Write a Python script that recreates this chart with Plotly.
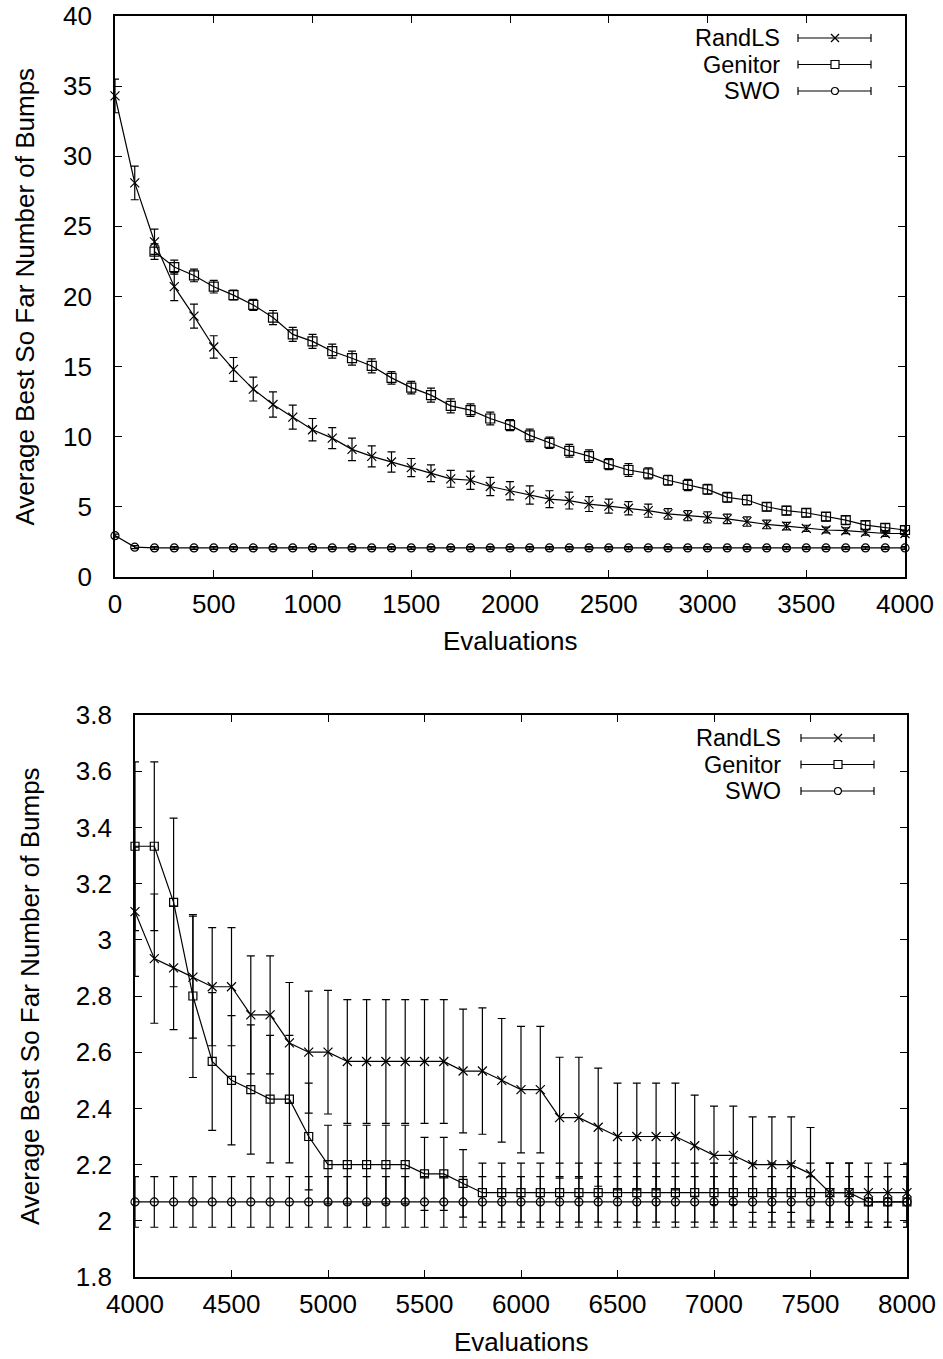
import plotly.graph_objects as go

W, H = 943, 1359

# ---------------- data: top panel (0 - 4000 evaluations) ----------------
top_evals = [0, 100, 200, 300, 400, 500, 600, 700, 800, 900, 1000, 1100, 1200, 1300,
             1400, 1500, 1600, 1700, 1800, 1900, 2000, 2100, 2200, 2300, 2400, 2500,
             2600, 2700, 2800, 2900, 3000, 3100, 3200, 3300, 3400, 3500, 3600, 3700,
             3800, 3900, 4000]
top_randls = [34.3, 28.1, 23.9, 20.7, 18.6, 16.4, 14.8, 13.4, 12.3, 11.4, 10.5, 9.9, 9.1,
              8.6, 8.2, 7.8, 7.4, 7.0, 6.9, 6.45, 6.15, 5.85, 5.55, 5.45, 5.2, 5.05, 4.9,
              4.73, 4.5, 4.37, 4.25, 4.15, 3.95, 3.75, 3.63, 3.47, 3.35, 3.3, 3.18, 3.1, 3.1]
top_randls_err = [1.2, 1.2, 0.9, 1.0, 0.85, 0.8, 0.85, 0.85, 0.9, 0.85, 0.8, 0.75, 0.8,
                  0.75, 0.72, 0.65, 0.6, 0.6, 0.65, 0.65, 0.65, 0.65, 0.6, 0.6, 0.53, 0.5,
                  0.47, 0.47, 0.38, 0.36, 0.39, 0.34, 0.33, 0.31, 0.27, 0.22, 0.21, 0.21,
                  0.2, 0.2, 0.2]
top_genitor_evals = [200, 300, 400, 500, 600, 700, 800, 900, 1000, 1100, 1200, 1300, 1400,
                     1500, 1600, 1700, 1800, 1900, 2000, 2100, 2200, 2300, 2400, 2500,
                     2600, 2700, 2800, 2900, 3000, 3100, 3200, 3300, 3400, 3500, 3600,
                     3700, 3800, 3900, 4000]
top_genitor = [23.2, 22.1, 21.5, 20.7, 20.1, 19.4, 18.5, 17.3, 16.8, 16.1, 15.6, 15.05,
               14.2, 13.5, 12.97, 12.2, 11.9, 11.3, 10.83, 10.1, 9.57, 9.0, 8.62, 8.05,
               7.63, 7.39, 6.9, 6.56, 6.25, 5.68, 5.49, 5.01, 4.73, 4.58, 4.3, 4.06, 3.7,
               3.51, 3.35]
top_genitor_err = [0.55, 0.5, 0.45, 0.45, 0.35, 0.4, 0.5, 0.5, 0.5, 0.5, 0.5, 0.5, 0.45,
                   0.45, 0.5, 0.5, 0.45, 0.45, 0.4, 0.45, 0.4, 0.45, 0.45, 0.4, 0.45, 0.4,
                   0.35, 0.4, 0.35, 0.35, 0.35, 0.3, 0.3, 0.3, 0.3, 0.3, 0.3, 0.3, 0.3]
top_swo = [2.95, 2.13, 2.07, 2.07, 2.07, 2.07, 2.07, 2.07, 2.07, 2.07, 2.07, 2.07, 2.07,
           2.07, 2.07, 2.07, 2.07, 2.07, 2.07, 2.07, 2.07, 2.07, 2.07, 2.07, 2.07, 2.07,
           2.07, 2.07, 2.07, 2.07, 2.07, 2.07, 2.07, 2.07, 2.07, 2.07, 2.07, 2.07, 2.07,
           2.07, 2.07]
top_swo_err = [0.1] * len(top_swo)

# ---------------- data: bottom panel (4000 - 8000 evaluations) ----------------
bot_evals = [4000, 4100, 4200, 4300, 4400, 4500, 4600, 4700, 4800, 4900, 5000, 5100, 5200,
             5300, 5400, 5500, 5600, 5700, 5800, 5900, 6000, 6100, 6200, 6300, 6400, 6500,
             6600, 6700, 6800, 6900, 7000, 7100, 7200, 7300, 7400, 7500, 7600, 7700, 7800,
             7900, 8000]
bot_randls = [3.1, 2.933, 2.9, 2.867, 2.833, 2.833, 2.733, 2.733, 2.633, 2.6, 2.6, 2.567,
              2.567, 2.567, 2.567, 2.567, 2.567, 2.533, 2.533, 2.5, 2.467, 2.467, 2.367,
              2.367, 2.333, 2.3, 2.3, 2.3, 2.3, 2.267, 2.233, 2.233, 2.2, 2.2, 2.2, 2.167,
              2.1, 2.1, 2.1, 2.1, 2.1]
bot_randls_err = [0.23, 0.23, 0.22, 0.217, 0.21, 0.21, 0.21, 0.21, 0.215, 0.217, 0.22,
                  0.22, 0.22, 0.22, 0.22, 0.22, 0.22, 0.22, 0.225, 0.22, 0.225, 0.225,
                  0.215, 0.215, 0.21, 0.19, 0.19, 0.19, 0.19, 0.18, 0.175, 0.175, 0.17,
                  0.17, 0.17, 0.165, 0.105, 0.105, 0.105, 0.105, 0.105]
bot_genitor = [3.333, 3.333, 3.133, 2.8, 2.567, 2.5, 2.467, 2.433, 2.433, 2.3, 2.2, 2.2,
               2.2, 2.2, 2.2, 2.167, 2.167, 2.133, 2.1, 2.1, 2.1, 2.1, 2.1, 2.1, 2.1, 2.1,
               2.1, 2.1, 2.1, 2.1, 2.1, 2.1, 2.1, 2.1, 2.1, 2.1, 2.1, 2.1, 2.067, 2.067,
               2.067]
bot_genitor_err = [0.3, 0.3, 0.3, 0.29, 0.245, 0.23, 0.23, 0.227, 0.227, 0.19, 0.14, 0.14,
                   0.14, 0.14, 0.14, 0.13, 0.13, 0.12, 0.105, 0.105, 0.105, 0.105, 0.105,
                   0.105, 0.105, 0.105, 0.105, 0.105, 0.105, 0.105, 0.105, 0.105, 0.105,
                   0.105, 0.105, 0.105, 0.105, 0.105, 0.09, 0.09, 0.09]
bot_swo = [2.067] * 41
bot_swo_err = [0.09] * 41

series_names = ["RandLS", "Genitor", "SWO"]
x_title = "Evaluations"
y_title = "Average Best So Far Number of Bumps"

FONT = "Liberation Sans, Arial, Helvetica, sans-serif"
FS = 26
KEY_FS = 23.5

fig = go.Figure()


def add_series(x, y, err, symbol, size, xa, ya):
    fig.add_trace(go.Scatter(
        x=x, y=y, mode="lines+markers", xaxis=xa, yaxis=ya, showlegend=False,
        cliponaxis=False,
        line=dict(color="black", width=1.2),
        marker=dict(symbol=symbol, size=size, color="black",
                    line=dict(color="black", width=1.2)),
        error_y=dict(type="data", array=err, visible=True, color="black",
                     thickness=1.2, width=4),
    ))


add_series(top_evals, top_randls, top_randls_err, "x-thin-open", 9, "x", "y")
add_series(top_genitor_evals, top_genitor, top_genitor_err, "square-open", 9, "x", "y")
add_series(top_evals, top_swo, top_swo_err, "circle-open", 8, "x", "y")

add_series(bot_evals, bot_randls, bot_randls_err, "x-thin-open", 9, "x2", "y2")
add_series(bot_evals, bot_genitor, bot_genitor_err, "square-open", 8, "x2", "y2")
add_series(bot_evals, bot_swo, bot_swo_err, "circle-open", 8, "x2", "y2")


def px(xp):
    return xp / W


def py(yp):
    return 1 - yp / H


axis_common = dict(
    showline=True, linecolor="black", linewidth=1.6, mirror="ticks",
    ticks="inside", ticklen=7, tickwidth=1.2, tickcolor="black",
    showgrid=False, zeroline=False, automargin=False,
    tickfont=dict(family=FONT, size=FS, color="black"),
)

fig.update_layout(
    width=W, height=H,
    margin=dict(l=0, r=0, t=0, b=0),
    paper_bgcolor="white", plot_bgcolor="white",
    font=dict(family=FONT, size=FS, color="black"),
    xaxis=dict(domain=[px(115), px(905)], range=[0, 4000], tickvals=list(range(0, 4001, 500)),
               anchor="y", ticklabelstandoff=3, **axis_common),
    yaxis=dict(domain=[py(577), py(16)], range=[0, 40], dtick=5, anchor="x",
               ticklabelstandoff=16, **axis_common),
    xaxis2=dict(domain=[px(135), px(907)], range=[4000, 8000],
                tickvals=list(range(4000, 8001, 500)), anchor="y2", ticklabelstandoff=3,
                **axis_common),
    yaxis2=dict(domain=[py(1277), py(715)], range=[1.8, 3.8], dtick=0.2, tick0=1.8,
                anchor="x2", ticklabelstandoff=16, **axis_common),
)

annotations = []
shapes = []

# axis titles
for xc, yc in [(510, 641), (521, 1342)]:
    annotations.append(dict(text=x_title, x=px(xc), y=py(yc), xref="paper", yref="paper",
                            showarrow=False, xanchor="center", yanchor="middle",
                            font=dict(family=FONT, size=FS, color="black")))
for xc, yc in [(24, 296.5), (30, 996)]:
    annotations.append(dict(text=y_title, x=px(xc), y=py(yc), xref="paper", yref="paper",
                            showarrow=False, xanchor="center", yanchor="middle",
                            textangle=-90,
                            font=dict(family=FONT, size=FS, color="black")))

# custom gnuplot-style keys (text on the left, error-bar sample on the right)
key_layouts = [
    dict(text_right=782, rows=[38, 64.5, 91], x1=798, x2=871, xm=835),
    dict(text_right=783, rows=[738, 764.5, 791], x1=801, x2=874, xm=838),
]
for kl in key_layouts:
    for name, yr in zip(series_names, kl["rows"]):
        annotations.append(dict(text=name, x=px(kl["text_right"]), y=py(yr), xref="paper",
                                yref="paper", showarrow=False, xanchor="right",
                                yanchor="middle",
                                font=dict(family=FONT, size=KEY_FS, color="black")))
        ln = dict(color="black", width=1.2)
        shapes.append(dict(type="line", xref="paper", yref="paper", x0=px(kl["x1"]),
                           x1=px(kl["x2"]), y0=py(yr), y1=py(yr), line=ln))
        for xe in (kl["x1"], kl["x2"]):
            shapes.append(dict(type="line", xref="paper", yref="paper", x0=px(xe),
                               x1=px(xe), y0=py(yr - 4), y1=py(yr + 4), line=ln))
        xm = kl["xm"]
        if name == "RandLS":
            shapes.append(dict(type="line", xref="paper", yref="paper", x0=px(xm - 4),
                               x1=px(xm + 4), y0=py(yr - 4), y1=py(yr + 4), line=ln))
            shapes.append(dict(type="line", xref="paper", yref="paper", x0=px(xm - 4),
                               x1=px(xm + 4), y0=py(yr + 4), y1=py(yr - 4), line=ln))
        elif name == "Genitor":
            shapes.append(dict(type="rect", xref="paper", yref="paper", x0=px(xm - 4),
                               x1=px(xm + 4), y0=py(yr - 4), y1=py(yr + 4), line=ln,
                               fillcolor="white"))
        else:
            shapes.append(dict(type="circle", xref="paper", yref="paper", x0=px(xm - 3.5),
                               x1=px(xm + 3.5), y0=py(yr - 3.5), y1=py(yr + 3.5), line=ln,
                               fillcolor="white"))

fig.update_layout(annotations=annotations, shapes=shapes)

fig.write_html("out.html")
